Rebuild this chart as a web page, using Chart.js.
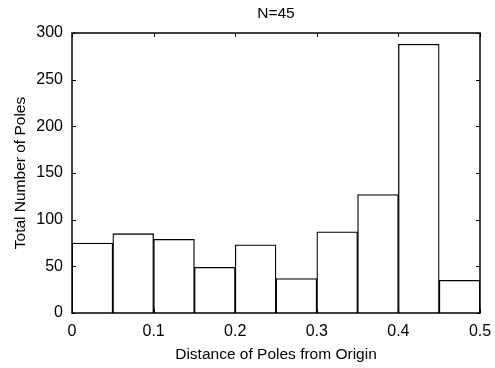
<!DOCTYPE html>
<html>
<head>
<meta charset="utf-8">
<script src="https://cdn.jsdelivr.net/npm/chart.js@4/dist/chart.umd.min.js"></script>
<style>
  html, body { margin: 0; padding: 0; background: #fff; }
  #wrap { width: 495px; height: 368px; }
</style>
</head>
<body>
<div id="wrap"><canvas id="c" width="495" height="368"></canvas></div>
<script>
const binStarts = [0, 0.05, 0.10, 0.15, 0.20, 0.25, 0.30, 0.35, 0.40, 0.45];
const binWidth = 0.05;
const counts = [75, 85, 79, 49, 73, 37, 87, 127, 288, 35];
const xTicks = [0, 0.1, 0.2, 0.3, 0.4, 0.5];
const yTicks = [0, 50, 100, 150, 200, 250, 300];
const titleText = 'N=45';
const xTitle = 'Distance of Poles from Origin';
const yTitle = 'Total Number of Poles';

const FONT = 'Liberation Sans, Arial, Helvetica, sans-serif';

const boxTicks = {
  id: 'boxTicks',
  afterDatasetsDraw(chart) {
    const ctx = chart.ctx;
    const a = chart.chartArea;
    const xs = chart.scales.x, ys = chart.scales.y;
    const L = 4;
    ctx.save();
    ctx.strokeStyle = '#000';
    ctx.lineWidth = 1.5;
    ctx.strokeRect(a.left, a.top, a.right - a.left, a.bottom - a.top);
    ctx.lineWidth = 1;
    ctx.beginPath();
    xTicks.forEach(v => {
      const px = Math.round(xs.getPixelForValue(v)) + 0.5;
      ctx.moveTo(px, a.bottom); ctx.lineTo(px, a.bottom - L);
      ctx.moveTo(px, a.top); ctx.lineTo(px, a.top + L);
    });
    yTicks.forEach(v => {
      const py = Math.round(ys.getPixelForValue(v)) + 0.5;
      ctx.moveTo(a.left, py); ctx.lineTo(a.left + L, py);
      ctx.moveTo(a.right, py); ctx.lineTo(a.right - L, py);
    });
    ctx.stroke();
    // chart title centred over the plot area
    ctx.fillStyle = '#000';
    ctx.font = '15.5px ' + FONT;
    ctx.textAlign = 'center';
    ctx.textBaseline = 'middle';
    ctx.fillText(titleText, (a.left + a.right) / 2, 14);
    ctx.restore();
  }
};

new Chart(document.getElementById('c'), {
  type: 'bar',
  data: {
    datasets: [{
      data: binStarts.map((s, i) => ({ x: s + binWidth / 2, y: counts[i] })),
      backgroundColor: '#ffffff',
      borderColor: '#000000',
      borderWidth: 1.3,
      barPercentage: 1,
      categoryPercentage: 1
    }]
  },
  options: {
    responsive: false,
    animation: false,
    devicePixelRatio: 1,
    layout: { padding: { left: 0, right: 15, top: 33, bottom: 0 } },
    plugins: {
      legend: { display: false },
      tooltip: { enabled: false },
      title: { display: false }
    },
    scales: {
      x: {
        type: 'linear',
        min: 0, max: 0.5,
        offset: false,
        grid: { display: false, drawTicks: false, offset: false },
        border: { display: false },
        afterBuildTicks: s => { s.ticks = xTicks.map(v => ({ value: v })); },
        afterFit: s => { s.height = 55; s.paddingLeft = 0; s.paddingRight = 0; },
        ticks: {
          color: '#000', padding: 9,
          font: { family: FONT, size: 16 },
          maxRotation: 0,
          callback: v => String(v)
        },
        title: {
          display: true, text: xTitle, color: '#000',
          font: { family: FONT, size: 15.5, lineHeight: 1.2 },
          padding: { top: 0, bottom: 4.2 }
        }
      },
      y: {
        min: 0, max: 300,
        grid: { display: false, drawTicks: false },
        border: { display: false },
        afterBuildTicks: s => { s.ticks = yTicks.map(v => ({ value: v })); },
        afterFit: s => { s.width = 72; s.paddingTop = 0; s.paddingBottom = 0; },
        ticks: {
          color: '#000', padding: 9,
          font: { family: FONT, size: 16 },
          callback: v => String(v)
        },
        title: {
          display: true, text: yTitle, color: '#000',
          font: { family: FONT, size: 15.5, lineHeight: 1.2 },
          padding: { top: 11.2, bottom: 0 }
        }
      }
    }
  },
  plugins: [boxTicks]
});
</script>
</body>
</html>
